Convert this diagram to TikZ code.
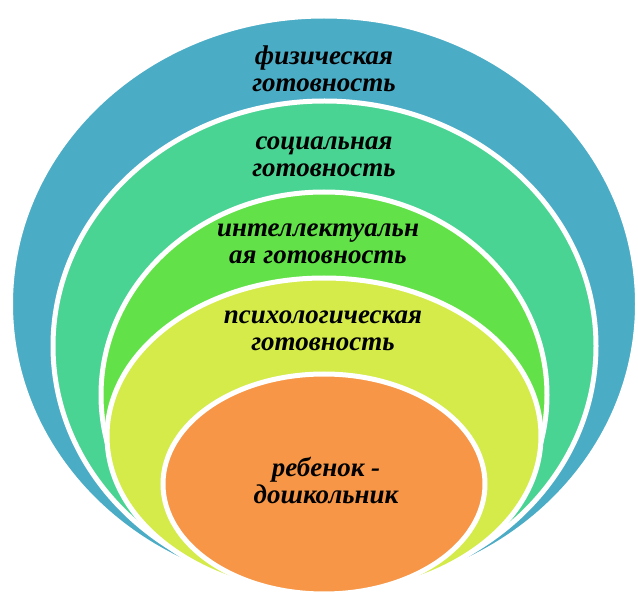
\documentclass[tikz,border=0pt]{standalone}
\usepackage{fontspec}
\setmainfont{Liberation Serif}
\definecolor{cblue}{RGB}{75,172,198}
\definecolor{cgreen}{RGB}{74,212,148}
\definecolor{cbright}{RGB}{98,226,72}
\definecolor{clime}{RGB}{213,235,74}
\definecolor{corange}{RGB}{247,150,70}
\begin{document}
\begin{tikzpicture}[x=1pt,y=-1pt,
  ring/.style={fill=#1, draw=white, line width=5pt},
  lbl/.style={font=\fontsize{27}{27}\selectfont\bfseries\itshape, align=center, anchor=base, inner sep=0pt, text=black}]
\useasboundingbox (0,0) rectangle (638,596);
\begin{scope}
\clip (0,0) rectangle (638,596);
\path[ring=cblue] (324,304) ellipse [x radius=313.5, y radius=288];
\path[ring=cgreen] (324.5,346) ellipse [x radius=271.5, y radius=245];
\path[ring=cbright] (324,395) ellipse [x radius=223, y radius=203];
\path[ring=clime] (324,436) ellipse [x radius=217, y radius=158];
\path[ring=corange] (324,484) ellipse [x radius=161, y radius=110];
\end{scope}
\node[lbl] (phys) at (324,92) {физическая\\готовность};
\node[lbl] (soc) at (324,177) {социальная\\готовность};
\node[lbl] (intel) at (318,264) {интеллектуальн\\ая готовность};
\node[lbl] (psy) at (323,351) {психологическая\\готовность};
\node[lbl] (child) at (326,503) {ребенок -\\дошкольник};
\end{tikzpicture}
\end{document}
